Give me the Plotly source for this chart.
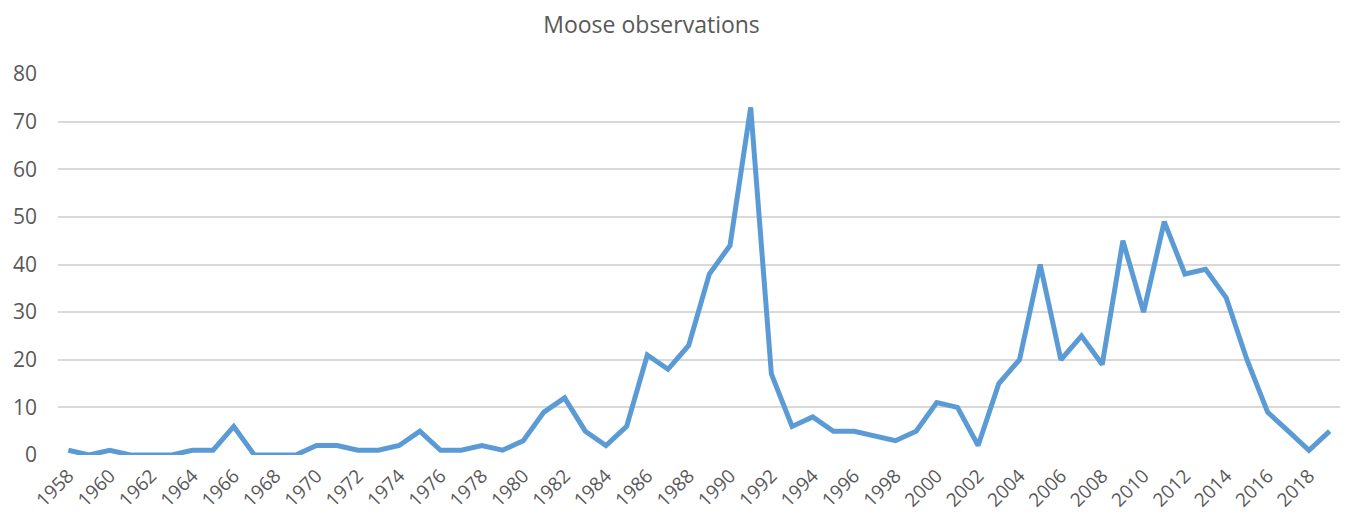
import plotly.graph_objects as go

years = list(range(1958, 2020))
moose = [1, 0, 1, 0, 0, 0, 1, 1, 6, 0, 0, 0, 2, 2, 1, 1, 2, 5, 1, 1,
         2, 1, 3, 9, 12, 5, 2, 6, 21, 18, 23, 38, 44, 73, 17, 6, 8, 5, 5, 4,
         3, 5, 11, 10, 2, 15, 20, 40, 20, 25, 19, 45, 30, 49, 38, 39, 33, 20, 9, 5,
         1, 5]
tick_years = list(range(1958, 2020, 2))
y_ticks = list(range(0, 90, 10))

fig = go.Figure()
fig.add_trace(go.Scatter(x=years, y=moose, mode="lines",
                         line=dict(color="#5B9BD5", width=5, shape="linear"),
                         showlegend=False))

font_family = "Open Sans, sans-serif"
fig.update_layout(
    width=1349, height=517,
    margin=dict(l=58, r=9, t=74, b=62, autoexpand=False),
    paper_bgcolor="white", plot_bgcolor="white",
    title=dict(text="Moose observations", x=0.483, xanchor="center", y=0.951, yanchor="middle",
               font=dict(family=font_family, size=23, color="#595959")),
    font=dict(family=font_family, color="#595959"),
)
fig.update_xaxes(range=[1957.5, 2019.5], tickmode="array", tickvals=tick_years,
                 ticktext=[str(y) for y in tick_years], tickangle=-45,
                 showgrid=False, zeroline=False, showline=False, automargin=False,
                 ticklabelstandoff=5,
                 tickfont=dict(size=19, color="#595959"), ticks="")
fig.update_yaxes(range=[0, 80], tickmode="array", tickvals=y_ticks,
                 showgrid=True, gridcolor="#D9D9D9", gridwidth=2,
                 zeroline=False, showline=False, ticklabelstandoff=20, automargin=False,
                 tickfont=dict(size=21, color="#595959"), ticks="")

fig.write_html("out.html", config={"displayModeBar": False},
               post_script="document.body.style.margin='0';")
